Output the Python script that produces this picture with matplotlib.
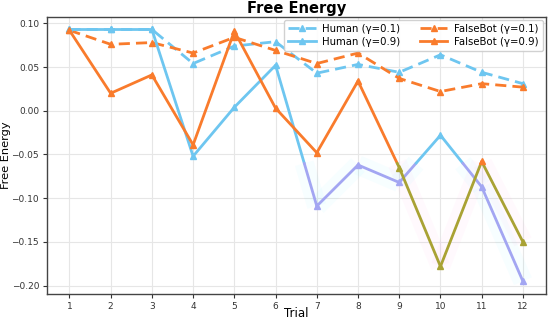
import numpy as np
import matplotlib
matplotlib.use("Agg")
import matplotlib.pyplot as plt
from matplotlib.lines import Line2D

trials = list(range(1, 13))
human_01 = [0.093, 0.093, 0.093, 0.054, 0.074, 0.079, 0.043, 0.053, 0.044, 0.064, 0.044, 0.031]
falsebot_01 = [0.092, 0.076, 0.078, 0.066, 0.084, 0.069, 0.054, 0.066, 0.037, 0.022, 0.031, 0.027]
human_09 = [0.093, 0.093, 0.093, -0.052, 0.004, 0.052, -0.109, -0.062, -0.082, -0.028, -0.087, -0.195]
falsebot_09 = [0.092, 0.020, 0.041, -0.039, 0.091, 0.003, -0.048, 0.034, -0.065, -0.178, -0.058, -0.150]
labels = ["Human (γ=0.1)", "Human (γ=0.9)", "FalseBot (γ=0.1)", "FalseBot (γ=0.9)"]
yticks = [0.10, 0.05, 0.00, -0.05, -0.10, -0.15, -0.20]
threshold = -0.06

C_HUMAN = "#6ec6f0"
C_BOT = "#f97b2c"
C_HUMAN_LOW = "#a3a6f2"
C_BOT_LOW = "#a9a234"

fig = plt.figure(figsize=(5.5, 3.24), dpi=100)
ax = fig.add_axes([0.085, 0.093, 0.907, 0.855])


def split_line(x, y, thr):
    pieces = []
    for i in range(len(x) - 1):
        x0, x1, y0, y1 = x[i], x[i + 1], y[i], y[i + 1]
        if (y0 - thr) * (y1 - thr) < 0:
            t = (thr - y0) / (y1 - y0)
            xc = x0 + t * (x1 - x0)
            pieces.append(([x0, xc], [y0, thr], y0 < thr))
            pieces.append(([xc, x1], [thr, y1], y1 < thr))
        else:
            low = (y0 + y1) / 2 < thr
            pieces.append(([x0, x1], [y0, y1], low))
    return pieces


def draw_split(x, y, base, lowc, glow):
    for xs, ys, low in split_line(x, y, threshold):
        if low:
            ax.plot(xs, ys, color=glow, lw=14, alpha=0.03, solid_capstyle="butt", zorder=1)
        ax.plot(xs, ys, color=lowc if low else base, lw=2, zorder=3, solid_capstyle="round")
    ya = np.array(y)
    xa = np.array(x)
    hi = ya >= threshold
    ax.plot(xa[hi], ya[hi], ls="none", marker="^", ms=4, color=base, zorder=4)
    ax.plot(xa[~hi], ya[~hi], ls="none", marker="^", ms=4, color=lowc, zorder=4)


dash = (0, (4, 2.2))
ax.plot(trials, human_01, color=C_HUMAN, lw=2, ls=dash, marker="^", ms=4, zorder=3)
ax.plot(trials, falsebot_01, color=C_BOT, lw=2, ls=dash, marker="^", ms=4, zorder=3)
draw_split(trials, human_09, C_HUMAN, C_HUMAN_LOW, "#00e5ff")
draw_split(trials, falsebot_09, C_BOT, C_BOT_LOW, "#ff55cc")

handles = [
    Line2D([], [], color=C_HUMAN, lw=2, ls=dash, marker="^", ms=4),
    Line2D([], [], color=C_HUMAN, lw=2, marker="^", ms=4),
    Line2D([], [], color=C_BOT, lw=2, ls=dash, marker="^", ms=4),
    Line2D([], [], color=C_BOT, lw=2, marker="^", ms=4),
]
ax.legend(handles, labels, ncol=2, loc="upper right", fontsize=7.3,
          frameon=True, framealpha=0.9, edgecolor="#cccccc",
          handlelength=2.7, columnspacing=1.9, borderaxespad=0.3,
          handletextpad=0.65, labelspacing=0.3)

ax.set_xticks(trials)
ax.set_yticks(yticks)
ax.set_yticklabels([f"{v:.2f}".replace("-", "\u2212") for v in yticks])
ax.tick_params(labelsize=6.5, length=3, pad=2.5, colors="#333333")
ax.grid(True, color="#e6e6e6", lw=0.8, zorder=0)
ax.set_axisbelow(True)
for s in ax.spines.values():
    s.set_color("#444444")
    s.set_linewidth(1.0)
ax.set_xlabel("Trial", fontsize=8.5)
ax.set_ylabel("Free Energy", fontsize=8.2)
ax.xaxis.set_label_coords(0.5, -0.072)
ax.xaxis.label.set_va("center")
ax.yaxis.set_label_coords(-0.081, 0.5)
ax.yaxis.label.set_va("center")
ax.set_title("Free Energy", fontsize=10.5, fontweight="bold", pad=3)
ax.margins(x=0.05, y=0.05)

fig.savefig("out.png", dpi=100)
